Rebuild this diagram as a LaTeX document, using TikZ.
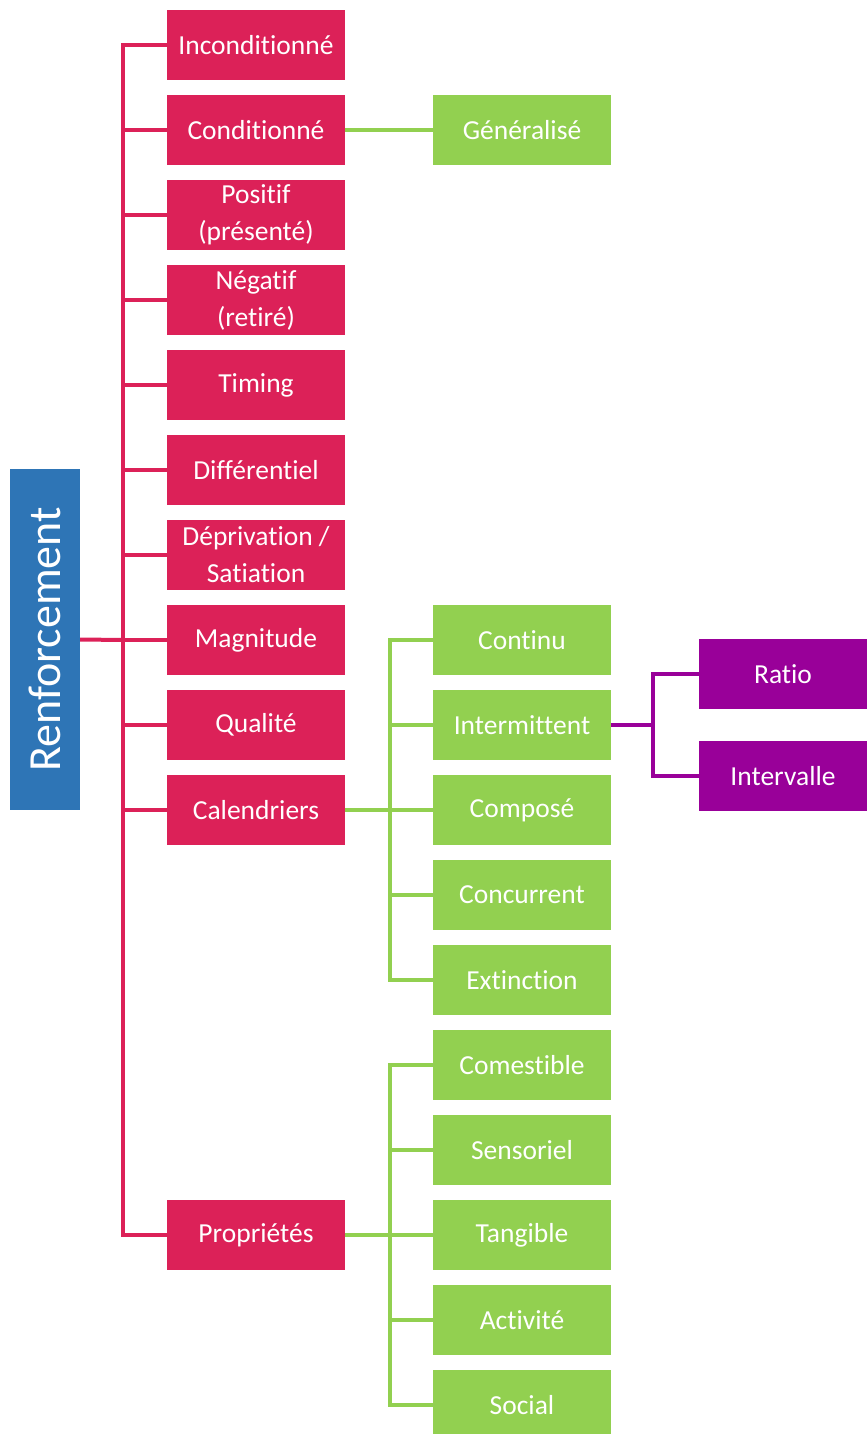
\documentclass[tikz,border=0pt]{standalone}
\usepackage{fontspec}
\setmainfont{Carlito}[Ligatures=NoCommon]
\definecolor{rouge}{RGB}{220,33,88}
\definecolor{vert}{RGB}{146,208,80}
\definecolor{violet}{RGB}{153,0,153}
\definecolor{bleu}{RGB}{46,117,182}
\begin{document}
\begin{tikzpicture}[x=1pt,y=-1pt,
    boite/.style={minimum width=178pt,minimum height=70pt,inner sep=0pt,text=white,
      align=center,font=\fontsize{27.5}{37}\selectfont},
    rbox/.style={boite,fill=rouge},
    vbox/.style={boite,fill=vert},
    pbox/.style={boite,fill=violet,minimum width=168pt},
    rlien/.style={rouge,line width=4pt},
    vlien/.style={vert,line width=4pt},
    plien/.style={violet,line width=4pt}]
    \useasboundingbox (0,0) rectangle (867,1434);
    \node[fill=bleu,minimum width=341pt,minimum height=70pt,inner sep=0pt,text=white,
      rotate=90,font=\fontsize{46}{50}\selectfont] (rf) at (45,639.5) {Renforcement};
    \node[rbox] (inc) at (256,45){Inconditionné};
    \node[rbox] (cond) at (256,130){Conditionné};
    \node[rbox] (pos) at (256,215){Positif\\(présenté)};
    \node[rbox] (neg) at (256,300){Négatif\\(retiré)};
    \node[rbox] (tim) at (256,385){Timing};
    \node[rbox] (dif) at (256,470){Différentiel};
    \node[rbox] (dep) at (256,555){Déprivation /\\Satiation};
    \node[rbox] (mag) at (256,640){Magnitude};
    \node[rbox] (qua) at (256,725){Qualité};
    \node[rbox] (cal) at (256,810){Calendriers};
    \node[rbox] (pro) at (256,1235){Propriétés};
    \node[vbox] (gen) at (522,130){Généralisé};
    \node[vbox] (cont) at (522,640){Continu};
    \node[vbox] (int) at (522,725){Intermittent};
    \node[vbox] (comp) at (522,810){Composé};
    \node[vbox] (conc) at (522,895){Concurrent};
    \node[vbox] (ext) at (522,980){Extinction};
    \node[vbox] (com) at (522,1065){Comestible};
    \node[vbox] (sen) at (522,1150){Sensoriel};
    \node[vbox] (tan) at (522,1235){Tangible};
    \node[vbox] (act) at (522,1320){Activité};
    \node[vbox] (soc) at (522,1405){Social};
    \node[pbox] (rat) at (783,674){Ratio};
    \node[pbox] (itv) at (783,776){Intervalle};
    % branches
    \coordinate (tr) at (123,640);
    \coordinate (tc) at (390,810);
    \coordinate (tp) at (390,1235);
    \coordinate (ti) at (653,725);
    \draw[rlien] (rf.south) -- (tr);
    \draw[rlien] (tr) |- (inc.west);
    \draw[rlien] (tr) |- (cond.west);
    \draw[rlien] (tr) |- (pos.west);
    \draw[rlien] (tr) |- (neg.west);
    \draw[rlien] (tr) |- (tim.west);
    \draw[rlien] (tr) |- (dif.west);
    \draw[rlien] (tr) |- (dep.west);
    \draw[rlien] (tr) |- (mag.west);
    \draw[rlien] (tr) |- (qua.west);
    \draw[rlien] (tr) |- (cal.west);
    \draw[rlien] (tr) |- (pro.west);
    \draw[vlien] (cond.east) -- (gen.west);
    \draw[vlien] (cal.east) -- (tc);
    \draw[vlien] (tc) |- (cont.west);
    \draw[vlien] (tc) |- (int.west);
    \draw[vlien] (tc) |- (comp.west);
    \draw[vlien] (tc) |- (conc.west);
    \draw[vlien] (tc) |- (ext.west);
    \draw[vlien] (pro.east) -- (tp);
    \draw[vlien] (tp) |- (com.west);
    \draw[vlien] (tp) |- (sen.west);
    \draw[vlien] (tp) |- (tan.west);
    \draw[vlien] (tp) |- (act.west);
    \draw[vlien] (tp) |- (soc.west);
    \draw[plien] (int.east) -- (ti);
    \draw[plien] (ti) |- (rat.west);
    \draw[plien] (ti) |- (itv.west);
  \end{tikzpicture}
\end{document}
